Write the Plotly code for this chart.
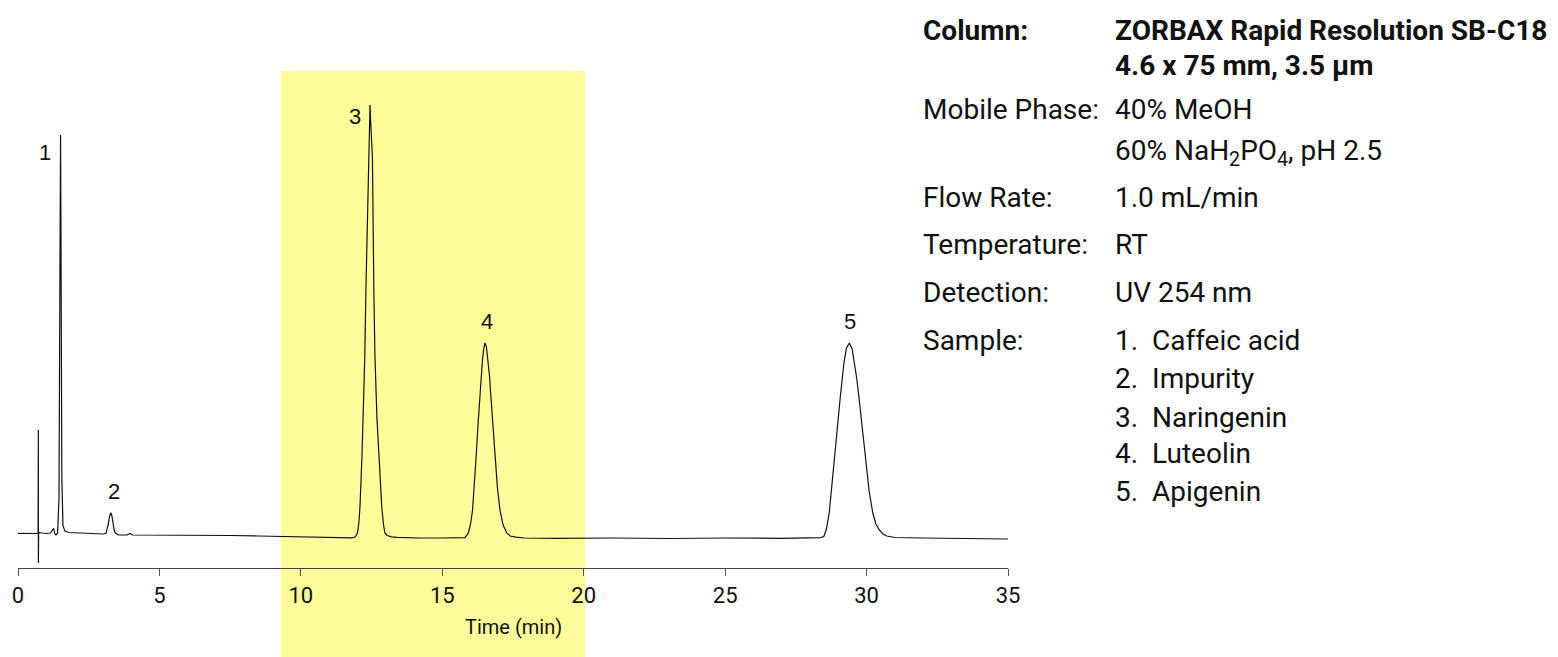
import plotly.graph_objects as go

# ---- chromatogram trace ----
time_min = [0.0, 0.3, 0.6, 0.71, 0.72, 0.72, 0.73, 0.85, 1.0, 1.15, 1.22, 1.26, 1.30, 1.34,
            1.40, 1.45, 1.48, 1.505, 1.52, 1.55, 1.59, 1.66, 1.8, 2.2, 2.6, 3.0,
            3.11, 3.16, 3.2, 3.24, 3.28, 3.32, 3.36, 3.40, 3.44, 3.55, 3.85, 3.96, 4.05,
            4.6, 5.5, 6.4, 7.5, 8.5, 9.5, 10.5, 11.5, 11.80,
            11.92, 12.0, 12.05, 12.09, 12.16, 12.26, 12.30, 12.35, 12.40, 12.425, 12.445,
            12.465, 12.49, 12.53, 12.58, 12.62, 12.69, 12.76, 12.86, 12.92, 12.97, 13.05,
            13.2, 13.4, 13.7, 14.2, 15.0, 15.6, 15.80,
            15.92, 16.0, 16.07, 16.13, 16.19, 16.26, 16.33, 16.38, 16.42, 16.47, 16.51,
            16.56, 16.62, 16.67, 16.71, 16.79, 16.87, 16.95, 17.04, 17.15, 17.28, 17.4,
            17.6, 17.9, 19.0, 21.0, 23.0, 25.0, 27.0, 28.2, 28.38,
            28.49, 28.58, 28.68, 28.76, 28.85, 28.96, 29.07, 29.14, 29.20, 29.29, 29.39,
            29.49, 29.58, 29.65, 29.73, 29.85, 29.97, 30.09, 30.22, 30.33, 30.45, 30.58,
            30.71, 30.85, 31.0, 32.0, 33.5, 35.0]
signal = [4.7, 4.8, 4.5, 4.5, 108, -25, 5.5, 5.0, 4.5, 5.0, 8.5, 9.7, 4.0, 3.0,
          5.0, 40, 250, 403, 300, 60, 12, 7, 5.5, 5.0, 4.2, 4.0,
          4.5, 9, 15, 22, 25.3, 22, 14, 8, 5, 3, 3, 4.5, 3,
          3, 2.8, 3, 2.5, 2, 1.5, 0.8, 0.3, 0.2,
          1, 5, 15, 31, 81, 181, 248, 315, 381, 415, 433,
          418, 400, 381, 248, 181, 120, 81, 31, 14, 5, 2.5,
          1.2, 0.6, 0.3, 0, 0, 0, 0.4,
          5, 14, 28, 50, 78, 112, 145, 165, 178, 190, 195,
          191, 178, 162, 145, 110, 78, 50, 28, 13, 5, 2,
          0.8, 0, -0.3, 0, -0.5, 0, -0.3, 0, 0.4,
          1.5, 9, 25, 47, 75, 108, 141, 160, 175, 190, 195,
          189, 175, 160, 141, 108, 75, 47, 25, 14, 8, 4,
          2, 1, 0.5, 0, -0.5, -1]

# ---- peak labels ----
peak_labels = ["1", "2", "3", "4", "5"]
label_time = [0.95, 3.39, 11.91, 16.58, 29.41]
label_signal = [386, 47, 422, 217, 217]

# ---- highlighted window (min) ----
highlight_start = 9.30
highlight_end = 20.05

# ---- x-axis ticks ----
tick_values = [0, 5, 10, 15, 20, 25, 30, 35]
tick_labels = ["0", "5", "10", "15", "20", "25", "30", "35"]
x_title = "Time (min)"

# ---- conditions panel ----
cond_labels = ["<b>Column:</b>", "", "Mobile Phase:", "", "Flow Rate:", "Temperature:",
               "Detection:", "Sample:", "", "", "", ""]
cond_values = ["<b>ZORBAX Rapid Resolution SB-C18</b>", "<b>4.6 x 75 mm, 3.5 µm</b>",
               "40% MeOH", "60% NaH<sub>2</sub>PO<sub>4</sub>, pH 2.5", "1.0 mL/min", "RT",
               "UV 254 nm", "1.  Caffeic acid", "2.  Impurity", "3.  Naringenin",
               "4.  Luteolin", "5.  Apigenin"]
cond_rows_y = [30, 66, 110, 152, 197, 244, 292, 340, 379, 417, 454, 491]

W, H = 1558, 657
L, R, T, B = 18, 550, 0, 89
PW, PH = W - L - R, H - T - B


def px(x):
    return (x - L) / PW


def py(y):
    return (H - B - y) / PH


PANEL_FONT = "Roboto, Lato, Liberation Sans, sans-serif"

fig = go.Figure()
fig.add_trace(go.Scatter(x=time_min, y=signal, mode="lines",
                         line=dict(color="#111111", width=1.2),
                         hoverinfo="skip", showlegend=False))

fig.add_shape(type="rect", xref="x", yref="paper", x0=highlight_start, x1=highlight_end,
              y0=py(H), y1=py(71), fillcolor="rgb(255,252,153)", line=dict(width=0),
              layer="below")

for lab, t, s in zip(peak_labels, label_time, label_signal):
    fig.add_annotation(x=t, y=s, text=lab, showarrow=False, xanchor="center",
                       yanchor="middle",
                       font=dict(family="Liberation Sans, Arial, sans-serif", size=22,
                                 color="#111111"))

fig.add_annotation(x=0.5, y=py(627), xref="paper", yref="paper", text=x_title,
                   showarrow=False, xanchor="center", yanchor="middle",
                   font=dict(family=PANEL_FONT, size=20, color="#111111"))

for lab, val, yy in zip(cond_labels, cond_values, cond_rows_y):
    if lab:
        fig.add_annotation(x=px(921), y=py(yy), xref="paper", yref="paper", text=lab,
                           showarrow=False, xanchor="left", yanchor="middle",
                           font=dict(family=PANEL_FONT, size=28, color="#111111"))
    fig.add_annotation(x=px(1113), y=py(yy), xref="paper", yref="paper", text=val,
                       showarrow=False, xanchor="left", yanchor="middle",
                       font=dict(family=PANEL_FONT, size=28, color="#111111"))

fig.update_layout(
    width=W, height=H, autosize=False,
    margin=dict(l=L, r=R, t=T, b=B, pad=0),
    paper_bgcolor="white", plot_bgcolor="rgba(0,0,0,0)",
    xaxis=dict(range=[0, 35], tickvals=tick_values, ticktext=tick_labels,
               ticks="outside", ticklen=7, tickwidth=1, tickcolor="#555555",
               showline=True, linecolor="#444444", linewidth=1.3,
               showgrid=False, zeroline=False, fixedrange=True,
               tickfont=dict(family=PANEL_FONT, size=22, color="#111111")),
    yaxis=dict(range=[-30, 538], visible=False, fixedrange=True),
)

fig.write_html("out.html")
